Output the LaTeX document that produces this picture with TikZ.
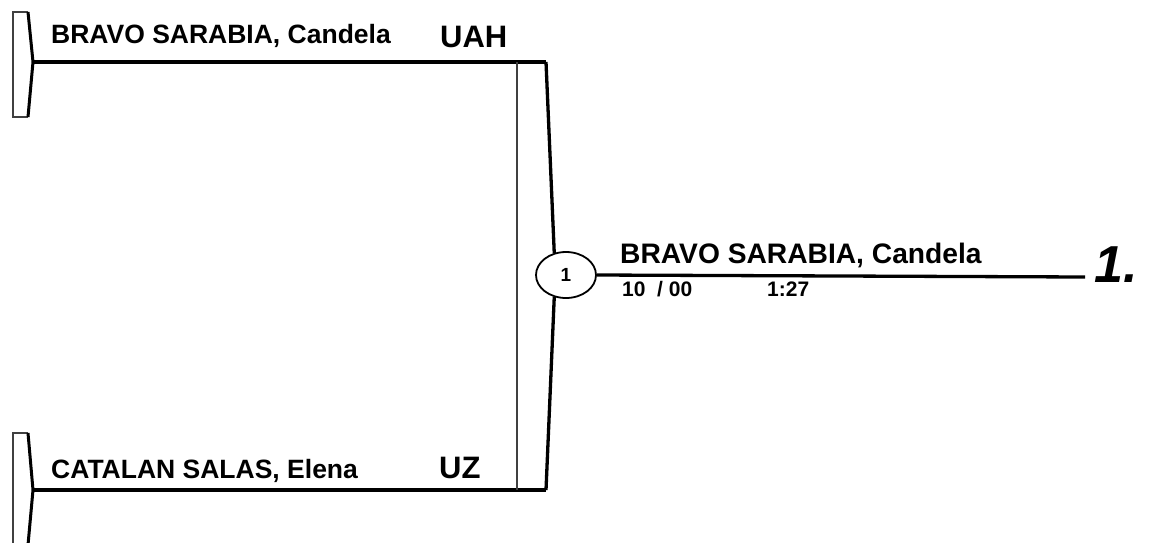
\documentclass[tikz,border=0pt]{standalone}
\usepackage{fontspec}
\setmainfont{Liberation Sans}
\usetikzlibrary{positioning,shapes.geometric}
\tikzset{
  playername/.style={font=\fontsize{26.5}{30}\selectfont\bfseries, anchor=base west, inner sep=0pt},
  clubname/.style={font=\fontsize{31}{36}\selectfont\bfseries, anchor=base west, inner sep=0pt},
  scoretext/.style={font=\fontsize{21}{24}\selectfont\bfseries, anchor=base west, inner sep=0pt},
  thinline/.style={draw=black!75, line width=1.3pt},
  thickline/.style={line width=3.3pt},
  bracketend/.style={line width=3pt, line join=round},
}
\begin{document}
\begin{tikzpicture}[x=1pt,y=-1pt]
  \useasboundingbox (0,0) rectangle (1162,542);
  % left brackets
  \draw[thinline] (28,12) -- (13,12) -- (13,117) -- (28,117);
  \draw[bracketend] (28,12) -- (33,62) -- (28,117);
  \draw[thinline] (28,433) -- (13,433) -- (13,545) -- (28,545);
  \draw[bracketend] (28,433) -- (33,490) -- (28,545);
  % entry points
  \coordinate (e1) at (33,62);
  \coordinate (e2) at (33,490);
  \coordinate (k1) at (546,62);
  \coordinate (k2) at (546,490);
  \coordinate (t1) at (517,62);
  \coordinate (t2) at (517,490);
  % players
  \node[playername] (n1) at (51,43) {BRAVO SARABIA, Candela};
  \node[clubname] (c1) at (440,47) {UAH};
  \node[playername] (n2) at (51,478) {CATALAN SALAS, Elena};
  \node[clubname] (c2) at (439,478) {UZ};
  % match
  \node[draw, ellipse, line width=1.8pt, minimum width=60pt, minimum height=46pt,
    inner sep=0pt, font=\fontsize{19}{22}\selectfont\bfseries] (m1) at (566,275) {1};
  \begin{scope}[-]
    \draw[thickline] (e1) -- (k1);
    \draw[thickline] (e2) -- (k2);
    \draw[thinline] (t1) -- (t2);
    \draw[thickline, line join=round] (k1) -- (m1.118);
    \draw[thickline, line join=round] (k2) -- (m1.242);
  \end{scope}
  % winner
  \coordinate (w1) at (1085,277);
  \draw[thickline] (m1.east) -- (w1);
  \node[playername, font=\fontsize{28.2}{32}\selectfont\bfseries] (n3) at (620,263) {BRAVO SARABIA, Candela};
  \node[scoretext] (s1) at (622,296) {10 \ / 00};
  \node[scoretext] (s2) at (767,296) {1:27};
  \node[anchor=base west, inner sep=0pt, font=\fontsize{52}{60}\selectfont\bfseries\itshape] (r1) at (1094,282) {1.};
\end{tikzpicture}
\end{document}
